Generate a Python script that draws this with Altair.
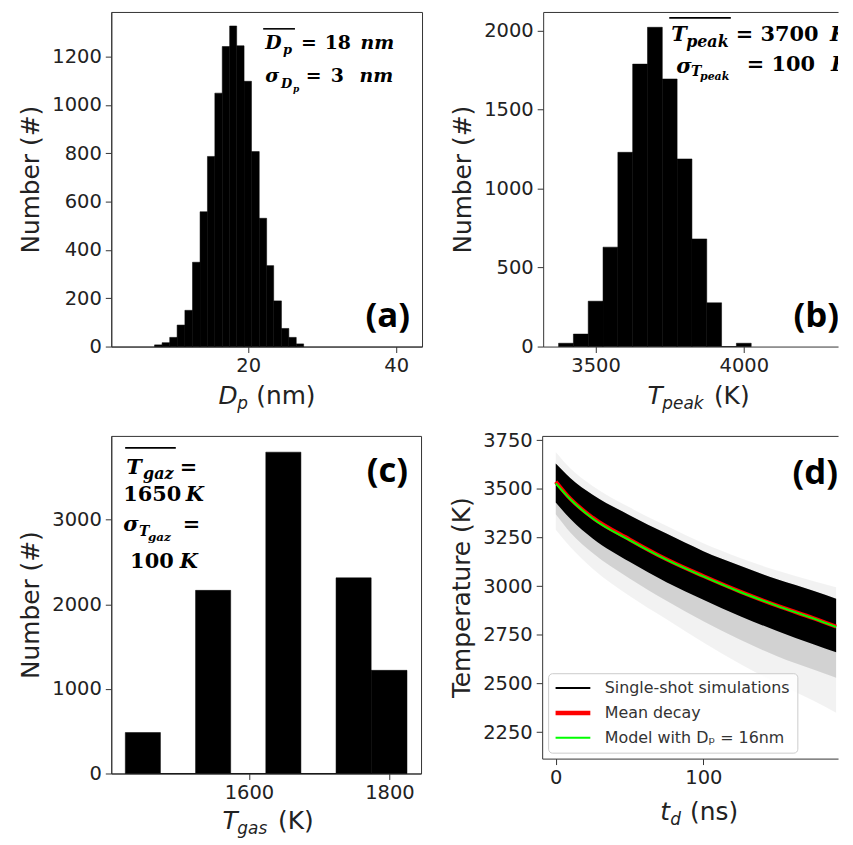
import altair as alt
import pandas as pd

# ---------------- data ----------------
# (a) particle diameter histogram
dp_edges = [7.35, 8.37, 9.4, 10.4, 11.45, 12.48, 13.5, 14.5, 15.5, 16.5, 17.5,
            18.45, 19.45, 20.45, 21.5, 22.5, 23.45, 24.5, 25.5, 26.5, 27.5]
dp_counts = [7, 16, 38, 89, 150, 349, 558, 787, 1049, 1242, 1327,
             1245, 1098, 807, 531, 335, 189, 75, 38, 11]

# (b) peak temperature histogram
tp_edges = [3375, 3425, 3475, 3525, 3575, 3625, 3675, 3725, 3775, 3825, 3875, 3925, 3975, 4025]
tp_counts = [21, 79, 287, 629, 1229, 1787, 2020, 1693, 1187, 681, 277, 0, 21]

# (c) gas temperature histogram
tg_edges = [1424, 1474, 1524, 1574, 1624, 1674, 1724, 1774, 1825]
tg_counts = [484, 0, 2164, 0, 3797, 0, 2312, 1219]

# (d) temperature decays
t_ns = [0, 10, 25, 50, 75, 100, 125, 150, 175, 190]
mean_decay = [3537, 3448, 3352, 3240, 3138, 3052, 2972, 2900, 2834, 2792]
model_16nm = [3528, 3445, 3348, 3236, 3136, 3050, 2970, 2899, 2833, 2790]
core_hi = [3630, 3555, 3470, 3365, 3270, 3180, 3105, 3035, 2975, 2935]
core_lo = [3430, 3345, 3245, 3125, 3020, 2930, 2845, 2770, 2700, 2660]
mid_lo = [3370, 3275, 3170, 3040, 2925, 2820, 2725, 2640, 2570, 2530]
fade_hi = [3690, 3605, 3515, 3405, 3310, 3220, 3145, 3080, 3025, 2995]
fade_lo = [3290, 3200, 3090, 2950, 2830, 2710, 2600, 2500, 2410, 2350]

LEG = ["Single-shot simulations", "Mean decay", "Model with D\u209a = 16nm"]
LEG_COLORS = ["black", "red", "#00ff00"]

# ---------------- helpers ----------------
FRAME = "#333333"
TXT = "#222222"
SERIF = "DejaVu Serif"
SANS = "DejaVu Sans"


def hist_df(edges, counts):
    return pd.DataFrame({"x0": edges[:-1], "x1": edges[1:], "n": counts})


def piece(text, x, y, size, italic=False, bold=True, font=SERIF, align="left", clip=False, color="black"):
    return alt.Chart(pd.DataFrame({"t": [text]})).mark_text(
        font=font, fontSize=size, fontStyle="italic" if italic else "normal",
        fontWeight="bold" if bold else "normal", align=align, baseline="alphabetic",
        color=color, clip=clip,
    ).encode(x=alt.value(x), y=alt.value(y), text="t:N")


def overline(x1, x2, y, clip=False):
    return alt.Chart(pd.DataFrame({"k": [0]})).mark_rule(color="black", strokeWidth=1.6, clip=clip).encode(
        x=alt.value(x1), x2=alt.value(x2), y=alt.value(y))


def sans(text, x, y, size, italic=False):
    return piece(text, x, y, size, italic=italic, bold=False, font=SANS, color=TXT)


def letter(text, x, y, clip=False):
    return piece(text, x, y, 35, bold=True, font="Open Sans", align="right", clip=clip)


def top_frame(df, field, domain):
    return alt.Chart(df).mark_point(opacity=0, size=1).encode(
        x=alt.X(field, scale=alt.Scale(domain=domain, nice=False, zero=False),
                axis=alt.Axis(orient="top", labels=False, ticks=False, title=None, domain=True)))


def hist_bars(df, xdom, xticks, ydom, yticks):
    return alt.Chart(df).mark_rect(color="black", stroke="black", strokeWidth=0.5).encode(
        x=alt.X("x0:Q", scale=alt.Scale(domain=xdom, nice=False, zero=False),
                axis=alt.Axis(values=xticks, title=None, format="d")),
        x2="x1:Q",
        y=alt.Y("n:Q", scale=alt.Scale(domain=ydom, nice=False),
                axis=alt.Axis(values=yticks, title="Number (#)", format="d")),
        y2=alt.datum(0),
    )


# ---------------- panel (a) ----------------
A_W, A_H = 313, 337
bars_a = hist_bars(hist_df(dp_edges, dp_counts), [1.5, 43.5], [20, 40], [0, 1385],
                   [0, 200, 400, 600, 800, 1000, 1200])
panel_a = alt.layer(
    bars_a,
    overline(153, 185, 17),
    piece("D", 155, 37, 19, italic=True), piece("p", 173, 42, 13, italic=True),
    piece("=", 191, 37, 19), piece("18", 215, 37, 19), piece("nm", 251, 37, 19, italic=True),
    piece("\u03c3", 155, 71, 19, italic=True), piece("D", 171, 77, 13, italic=True), piece("p", 183, 81, 9, italic=True),
    piece("=", 196, 71, 19), piece("3", 221, 71, 19), piece("nm", 250, 71, 19, italic=True),
    letter("(a)", 301, 317),
    sans("D", 108, 395, 25, italic=True), sans("p", 127, 400, 17, italic=True), sans("(nm)", 146, 395, 25),
).properties(width=A_W, height=A_H)

# ---------------- panel (b) ----------------
B_W, B_H = 297, 337
b_dom = [3323, 4318]
df_b = hist_df(tp_edges, tp_counts)
bars_b = hist_bars(df_b, b_dom, [3500, 4000], [0, 2117], [0, 500, 1000, 1500, 2000])
inner_b = alt.layer(
    bars_b,
    overline(127, 189, 6),
    piece("T", 129, 29, 21, italic=True), piece("peak", 144, 35, 16, italic=True),
    piece("=", 194, 29, 21), piece("3700", 219, 29, 21), piece("K", 289, 29, 21, italic=True, clip=True),
    piece("\u03c3", 134, 61, 21, italic=True), piece("T", 149, 65, 14, italic=True), piece("peak", 158, 69, 11, italic=True),
    piece("=", 205, 59, 21), piece("100", 230, 59, 21), piece("K", 290, 59, 21, italic=True, clip=True),
    letter("(b)", 298, 317, clip=True),
    sans("T", 105, 395, 25, italic=True), sans("peak", 120, 400, 17, italic=True), sans("(K)", 172, 395, 25),
)
panel_b = alt.layer(inner_b, top_frame(df_b, "x0:Q", b_dom)).resolve_axis(x="independent").properties(
    width=B_W, height=B_H, view=alt.ViewBackground(strokeOpacity=0))

# ---------------- panel (c) ----------------
C_W, C_H = 312, 340
bars_c = hist_bars(hist_df(tg_edges, tg_counts), [1404, 1845], [1600, 1800], [0, 3989], [0, 1000, 2000, 3000])
panel_c = alt.layer(
    bars_c,
    overline(14, 65, 12),
    piece("T", 15, 38, 21, italic=True), piece("gaz", 32, 43, 16, italic=True), piece("=", 69, 38, 21),
    piece("1650", 12, 66, 21), piece("K", 75, 66, 21, italic=True),
    piece("\u03c3", 12, 96, 21, italic=True), piece("T", 28, 101, 14, italic=True), piece("gaz", 37, 106, 12, italic=True),
    piece("=", 72, 96, 21),
    piece("100", 19, 133, 21), piece("K", 69, 133, 21, italic=True),
    letter("(c)", 299, 46),
    sans("T", 112, 396, 25, italic=True), sans("gas", 127, 401, 17, italic=True), sans("(K)", 168, 396, 25),
).properties(width=C_W, height=C_H)

# ---------------- panel (d) ----------------
D_W, D_H = 298, 325
d_xdom = [-9.2, 191.3]
d_ydom = [2114, 3772]
band = pd.DataFrame({"t": t_ns, "core_hi": core_hi, "core_lo": core_lo, "mid_lo": mid_lo,
                     "fade_hi": fade_hi, "fade_lo": fade_lo})
xd = alt.X("t:Q", scale=alt.Scale(domain=d_xdom, nice=False, zero=False),
           axis=alt.Axis(values=[0, 100], title=None, format="d"))
yd_scale = alt.Scale(domain=d_ydom, nice=False, zero=False)
fade = alt.Chart(band).mark_area(color="black", opacity=0.05, interpolate="monotone").encode(
    x=xd, y=alt.Y("fade_hi:Q", scale=yd_scale,
                  axis=alt.Axis(values=[2250, 2500, 2750, 3000, 3250, 3500, 3750], title="Temperature (K)", format="d")),
    y2="fade_lo:Q")
mid = alt.Chart(band).mark_area(color="black", opacity=0.13, interpolate="monotone").encode(
    x=xd, y=alt.Y("core_hi:Q", scale=yd_scale), y2="mid_lo:Q")
core = alt.Chart(band).mark_area(color="black", opacity=1, interpolate="monotone").encode(
    x=xd, y=alt.Y("core_hi:Q", scale=yd_scale), y2="core_lo:Q")

leg = alt.Legend(title=None, orient="bottom-left", offset=6, symbolType="stroke", symbolSize=1225,
                 symbolStrokeWidth={"expr": "datum.value === 'Mean decay' ? 4.5 : 2"},
                 symbolOffset=10,
                 labelFontSize=16, labelFont=SANS, labelColor="#333333", labelLimit=400,
                 fillColor="rgba(255,255,255,0.85)",
                 strokeColor="#cccccc", cornerRadius=4, padding=7, rowPadding=8, labelOffset=24)
color_enc = alt.Color("series:N", scale=alt.Scale(domain=LEG, range=LEG_COLORS), legend=leg)

mean_df = pd.DataFrame({"t": t_ns, "T": mean_decay, "series": LEG[1]})
model_df = pd.DataFrame({"t": t_ns, "T": model_16nm, "series": LEG[2]})
mean_line = alt.Chart(mean_df).mark_line(interpolate="monotone", strokeWidth=4).encode(
    x=xd, y=alt.Y("T:Q", scale=yd_scale), color=color_enc)
model_line = alt.Chart(model_df).mark_line(interpolate="monotone", strokeWidth=2).encode(
    x=xd, y=alt.Y("T:Q", scale=yd_scale), color=color_enc)

inner_d = alt.layer(
    fade, mid, core, mean_line, model_line,
    letter("(d)", 298, 48, clip=True),
    sans("t", 119, 387, 25, italic=True), sans("d", 129, 392, 17, italic=True), sans("(ns)", 149, 387, 25),
)
panel_d = alt.layer(inner_d, top_frame(band, "t:Q", d_xdom)).resolve_axis(x="independent").properties(
    width=D_W, height=D_H, view=alt.ViewBackground(strokeOpacity=0))

# ---------------- assemble ----------------
chart = alt.vconcat(
    alt.hconcat(panel_a, panel_b, spacing=28),
    alt.hconcat(panel_c, panel_d, spacing=28).resolve_scale(color="independent"),
    spacing=17,
).resolve_scale(color="independent").properties(
    padding={"left": 10, "top": 0, "right": 0, "bottom": 0}
).configure_axis(
    labelFont=SANS, labelFontSize=19.6, labelColor=TXT, titleFont=SANS, titleFontSize=25,
    titleFontWeight="normal", titleColor=TXT, tickSize=6, tickColor=FRAME, domainColor=FRAME,
    grid=False, labelPadding=4, titlePadding=8, labelFlush=False,
).configure_view(stroke=FRAME, strokeWidth=1)

chart.save("out.html", embed_options={"renderer": "svg", "actions": False})
